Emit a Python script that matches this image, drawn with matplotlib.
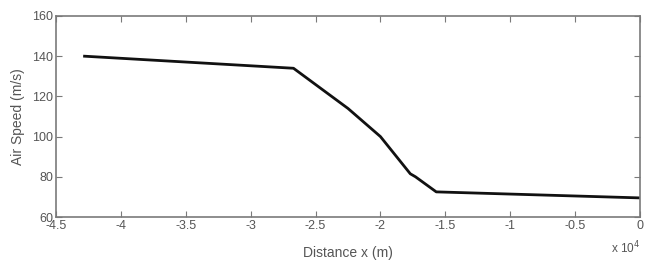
import matplotlib
matplotlib.use("Agg")
import matplotlib.pyplot as plt
from matplotlib.ticker import FuncFormatter

# --- Data (distance in m, air speed in m/s) ---
distance = [-42800, -26700, -22500, -20000, -17700, -17300, -15700, 0]
air_speed = [140, 134, 114, 100, 81.5, 80, 72.5, 69.5]

x_ticks = [-45000, -40000, -35000, -30000, -25000, -20000, -15000, -10000, -5000, 0]
y_ticks = [60, 80, 100, 120, 140, 160]

plt.rcParams['font.family'] = ['Liberation Sans', 'DejaVu Sans']
plt.rcParams['axes.unicode_minus'] = False

text_col = '#555555'
edge_col = '#7a7a7a'

fig = plt.figure(figsize=(6.48, 2.64), dpi=100)
ax = fig.add_axes([56 / 648, 1 - 217 / 264, 584 / 648, 201 / 264])

ax.plot(distance, air_speed, color='#111111', linewidth=2)

ax.set_xlim(-45000, 0)
ax.set_ylim(60, 160)
ax.set_xticks(x_ticks)
ax.set_yticks(y_ticks)
ax.xaxis.set_major_formatter(FuncFormatter(lambda v, p: f"{v / 1e4:g}"))

ax.tick_params(direction='in', top=True, right=True, length=4, width=0.8,
               color=edge_col, labelcolor=text_col, labelsize=9, pad=2)
for s in ax.spines.values():
    s.set_color(edge_col)
    s.set_linewidth(1.2)

ax.set_xlabel('Distance x (m)', color=text_col, fontsize=10, labelpad=10)
ax.set_ylabel('Air Speed (m/s)', color=text_col, fontsize=10, labelpad=5)
ax.text(1.0, -0.155, r'x 10$^4$', transform=ax.transAxes, ha='right', va='center',
        color=text_col, fontsize=8.5)

fig.savefig('out.png', dpi=100)
